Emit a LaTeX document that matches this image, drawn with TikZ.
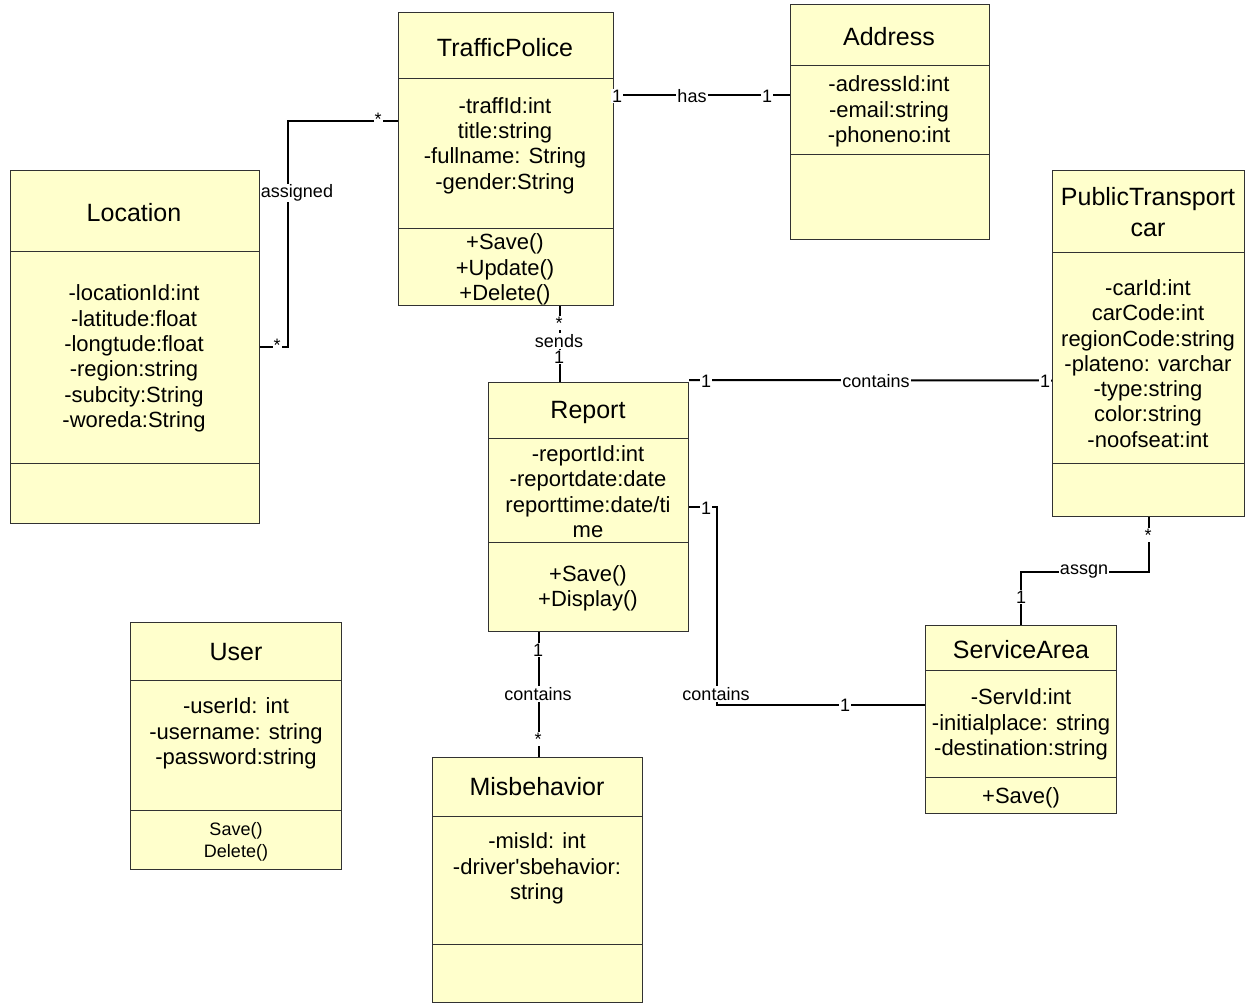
\documentclass[tikz,border=0pt]{standalone}
\usepackage{fontspec}
\setmainfont{Liberation Sans}
\usetikzlibrary{calc}
\definecolor{classfill}{RGB}{255,255,204}
\definecolor{classline}{RGB}{50,50,50}
\tikzset{
  cls/.style={draw=classline, fill=classfill, line width=1pt, inner sep=0pt, anchor=north west},
  divider/.style={draw=classline, line width=1pt},
  ttl/.style={font=\fontsize{25}{31}\selectfont, inner sep=0pt, align=center, yshift=-1.5pt},
  attr/.style={font=\fontsize{22}{25.3}\selectfont, inner sep=0pt, align=center, yshift=-2.5pt},
  oper/.style={font=\fontsize{18}{22}\selectfont, inner sep=0pt, align=center, yshift=-2pt},
  lbl/.style={font=\fontsize{18}{20}\selectfont, fill=white, inner sep=1pt, yshift=-1pt},
  assoc/.style={draw=black, line width=2pt}
}
% class box: name, x1, y1, x2, y2, first divider, second divider
\newcommand\umlbox[7]{%
  \node[cls, minimum width={#4-#2}, minimum height={#5-#3}] (#1) at (#2,#3) {};
  \draw[divider] (#2,#6) -- (#4,#6);
  \draw[divider] (#2,#7) -- (#4,#7);
}
\begin{document}
\begin{tikzpicture}[x=1pt, y=-1pt]
\useasboundingbox[fill=white] (0,0) rectangle (1250,1003);

% ---- classes ----
\umlbox{tp}{398}{12}{613}{305}{79}{229}
\node[ttl] (tpT) at (505,46) {TrafficPolice};
\node[attr] (tpA) at (505,143) {-traffId:int\\title:string\\-fullname: String\\-gender:String};
\node[attr] (tpO) at (505,267) {+Save()\\+Update()\\+Delete()};

\umlbox{addr}{790}{4}{989}{239}{66}{155}
\node[ttl] (addrT) at (889,35) {Address};
\node[attr] (addrA) at (889,109) {-adressId:int\\-email:string\\-phoneno:int};

\umlbox{loc}{10}{170}{259}{523}{251}{463}
\node[ttl] (locT) at (134,211) {Location};
\node[attr] (locA) at (134,356) {-locationId:int\\-latitude:float\\-longtude:float\\-region:string\\-subcity:String\\-woreda:String};

\umlbox{pt}{1052}{170}{1244}{516}{252}{463}
\node[ttl] (ptT) at (1148,211) {PublicTransport\\car};
\node[attr] (ptA) at (1148,361) {-carId:int\\carCode:int\\regionCode:string\\-plateno: varchar\\-type:string\\color:string\\-noofseat:int};

\umlbox{rep}{488}{382}{688}{631}{438}{542}
\node[ttl] (repT) at (588,411) {Report};
\node[attr] (repA) at (588,489) {-reportId:int\\-reportdate:date\\reporttime:date/ti\\me};
\node[attr] (repO) at (588,586) {+Save()\\+Display()};

\umlbox{usr}{130}{622}{341}{869}{680}{810}
\node[ttl] (usrT) at (236,651) {User};
\node[attr] (usrA) at (236,731) {-userId: int\\-username: string\\-password:string};
\node[oper] (usrO) at (236,840) {Save()\\Delete()};

\umlbox{mis}{432}{757}{642}{1002}{816}{944}
\node[ttl] (misT) at (537,785) {Misbehavior};
\node[attr] (misA) at (537,866) {-misId: int\\-driver\textquotesingle sbehavior:\\string};

\umlbox{sa}{925}{625}{1116}{813}{670}{777}
\node[ttl] (saT) at (1021,648) {ServiceArea};
\node[attr] (saA) at (1021,722) {-ServId:int\\-initialplace: string\\-destination:string};
\node[attr] (saO) at (1021,795) {+Save()};

% ---- associations ----
% Location -- TrafficPolice
\draw[assoc] (loc.east) -- ++(28,0) |- ([yshift=37.5pt]tp.west);
\node[lbl] (m1) at (277,344) {*};
\node[lbl] (m2) at (378,118) {*};
\node[lbl] (a1) at (297,192) {assigned};

% TrafficPolice -- Address
\draw[assoc] ([yshift=63.5pt]tp.east) -- ([yshift=26.5pt]addr.west);
\node[lbl] (m3) at (617,95) {1};
\node[lbl] (a2) at (692,95) {has};
\node[lbl] (m4) at (767,95) {1};

% TrafficPolice -- Report
\draw[assoc] ([xshift=53.5pt]tp.south) -- ([xshift=53.5pt]tp.south |- rep.north);
\node[lbl] (m5) at (559,322) {*};
\node[lbl] (a3) at (559,340) {sends};
\node[lbl] (m6) at (559,356) {1};

% Report -- PublicTransport car
\draw[assoc] ([yshift=2pt]rep.north east) -- ([yshift=-37pt]pt.west);
\node[lbl] (m7) at (706,380) {1};
\node[lbl] (a4) at (876,380) {contains};
\node[lbl] (m8) at (1045,380) {1};

% Report -- ServiceArea
\draw[assoc] (rep.east) -- ++(28,0) |- ([yshift=15pt]sa.west);
\node[lbl] (m9) at (706,507) {1};
\node[lbl] (a5) at (716,693) {contains};
\node[lbl] (m10) at (845,704) {1};

% PublicTransport car -- ServiceArea
\draw[assoc] (pt.south) -- ++(0,55) -| (sa.north);
\node[lbl] (m11) at (1148,534) {*};
\node[lbl] (a6) at (1084,571) {assgn};
\node[lbl] (m12) at (1021,596) {1};

% Report -- Misbehavior
\draw[assoc] ([xshift=-50pt]rep.south) -- ([xshift=-50pt]rep.south |- mis.north);
\node[lbl] (m13) at (538,649) {1};
\node[lbl] (a7) at (538,693) {contains};
\node[lbl] (m14) at (538,738) {*};
\end{tikzpicture}
\end{document}
